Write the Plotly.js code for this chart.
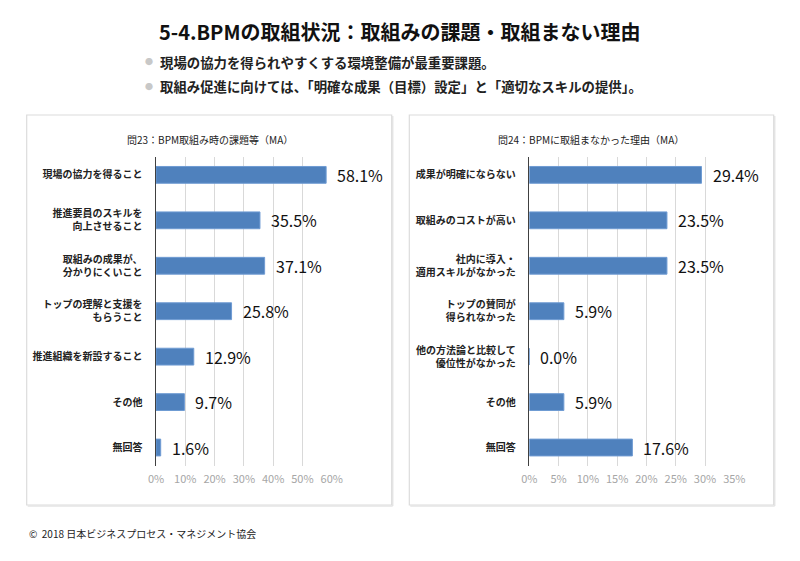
<!DOCTYPE html>
<html>
<head>
<meta charset="utf-8">
<script src="https://cdn.plot.ly/plotly-3.0.1.min.js"></script>
<style>html,body{margin:0;padding:0;background:#fff;}#chart{width:800px;height:561px;}</style>
</head>
<body>
<div id="chart"></div>
<script>
const mainTitle = "5-4.BPMの取組状況：取組みの課題・取組まない理由";
const bullets = ["現場の協力を得られやすくする環境整備が最重要課題。",
  "取組み促進に向けては、「明確な成果（目標）設定」と「適切なスキルの提供」。"];
const footer = "©  2018 日本ビジネスプロセス・マネジメント協会";

const leftTitle = "問23：BPM取組み時の課題等（MA）";
const leftCats = ["現場の協力を得ること", "推進要員のスキルを<br>向上させること", "取組みの成果が、<br>分かりにくいこと",
  "トップの理解と支援を<br>もらうこと", "推進組織を新設すること", "その他", "無回答"];
const leftVals = [58.1, 35.5, 37.1, 25.8, 12.9, 9.7, 1.6];
const leftTicks = [0, 10, 20, 30, 40, 50, 60];

const rightTitle = "問24：BPMに取組まなかった理由（MA）";
const rightCats = ["成果が明確にならない", "取組みのコストが高い", "社内に導入・<br>適用スキルがなかった",
  "トップの賛同が<br>得られなかった", "他の方法論と比較して<br>優位性がなかった", "その他", "無回答"];
const rightVals = [29.4, 23.5, 23.5, 5.9, 0.0, 5.9, 17.6];
const rightTicks = [0, 5, 10, 15, 20, 25, 30, 35];

const JP = '"Noto Sans CJK JP", "Noto Sans", sans-serif';
const W = 800, H = 561;
const px = v => v / W;
const py = v => 1 - v / H;
const barColor = '#4f81bd';

function barTrace(cats, vals, xa, ya) {
  return {
    type: 'bar', orientation: 'h', x: vals, y: cats, xaxis: xa, yaxis: ya,
    width: 0.37, marker: {color: barColor, line: {color: '#6f9bd3', width: 1}},
    hoverinfo: 'skip', showlegend: false
  };
}

function xAxis(ticks, domain, anchor) {
  return {
    domain: domain, anchor: anchor, range: [0, ticks[ticks.length - 1]],
    tickvals: ticks, ticktext: ticks.map(t => t + '%'),
    showgrid: true, gridcolor: '#d9d9d9', gridwidth: 1, zeroline: false,
    showline: false, ticks: '', fixedrange: true, ticklabelstandoff: 5,
    tickfont: {family: JP, size: 11, color: '#a6a6a6'}
  };
}
function yAxis(cats, domain, anchor) {
  return {
    domain: domain, anchor: anchor, type: 'category', categoryorder: 'array', categoryarray: cats,
    range: [6.4, -0.4], showgrid: false, zeroline: false,
    showline: true, linecolor: '#404040', linewidth: 1.5, ticks: '', ticklabelstandoff: 10,
    tickfont: {family: JP, size: 10, color: '#222', weight: 'bold'}, fixedrange: true
  };
}

const yDom = [py(465.7), py(156.7)];
const data = [barTrace(leftCats, leftVals, 'x', 'y'), barTrace(rightCats, rightVals, 'x2', 'y2')];

const annotations = [];
annotations.push({xref: 'paper', yref: 'paper', x: 0.5, y: py(31), xanchor: 'center', yanchor: 'middle',
  text: mainTitle, showarrow: false, font: {family: JP, size: 20, color: '#111', weight: 'bold'}});
const bulletY = [62, 86];
bullets.forEach((b, i) => {
  annotations.push({xref: 'paper', yref: 'paper', x: px(149), y: py(bulletY[i]), xanchor: 'center', yanchor: 'middle',
    text: '●', showarrow: false, font: {family: JP, size: 8, color: '#c8c8c8'}});
  annotations.push({xref: 'paper', yref: 'paper', x: px(158), y: py(bulletY[i]), xanchor: 'left', yanchor: 'middle',
    text: b, showarrow: false, font: {family: JP, size: 13.4, color: '#222', weight: 'bold'}});
});
annotations.push({xref: 'paper', yref: 'paper', x: px(210), y: py(139), xanchor: 'center', yanchor: 'middle',
  text: leftTitle, showarrow: false, font: {family: JP, size: 10, color: '#222'}});
annotations.push({xref: 'paper', yref: 'paper', x: px(591), y: py(139), xanchor: 'center', yanchor: 'middle',
  text: rightTitle, showarrow: false, font: {family: JP, size: 10, color: '#222'}});
annotations.push({xref: 'paper', yref: 'paper', x: px(27), y: py(533), xanchor: 'left', yanchor: 'middle',
  text: footer, showarrow: false, font: {family: JP, size: 10, color: '#222'}});

leftVals.forEach((v, i) => annotations.push({xref: 'x', yref: 'y', x: v, y: leftCats[i], xanchor: 'left', yanchor: 'middle',
  xshift: 9, text: v.toFixed(1) + '%', showarrow: false, font: {family: JP, size: 16, color: '#111'}}));
rightVals.forEach((v, i) => annotations.push({xref: 'x2', yref: 'y2', x: v, y: rightCats[i], xanchor: 'left', yanchor: 'middle',
  xshift: 9, text: v.toFixed(1) + '%', showarrow: false, font: {family: JP, size: 16, color: '#111'}}));

function panel(x0, x1) {
  return [
    {type: 'rect', xref: 'paper', yref: 'paper', x0: px(x0), x1: px(x1), y0: py(505), y1: py(115),
      line: {color: '#dcdcdc', width: 1.2}, fillcolor: 'rgba(0,0,0,0)', layer: 'below'},
    {type: 'line', xref: 'paper', yref: 'paper', x0: px(x0 + 1), x1: px(x1 + 1), y0: py(506), y1: py(506),
      line: {color: '#e4e4e4', width: 1.5}},
    {type: 'line', xref: 'paper', yref: 'paper', x0: px(x1 + 1), x1: px(x1 + 1), y0: py(116), y1: py(506),
      line: {color: '#e4e4e4', width: 1.5}}
  ];
}

const layout = {
  width: W, height: H, margin: {l: 0, r: 0, t: 0, b: 0},
  paper_bgcolor: '#fff', plot_bgcolor: 'rgba(0,0,0,0)',
  font: {family: JP},
  bargap: 0.63,
  xaxis: xAxis(leftTicks, [px(156), px(331.7)], 'y'),
  yaxis: yAxis(leftCats, yDom, 'x'),
  xaxis2: xAxis(rightTicks, [px(529.3), px(734.3)], 'y2'),
  yaxis2: yAxis(rightCats, yDom, 'x2'),
  shapes: panel(26.7, 391.7).concat(panel(409.3, 773.7)),
  annotations: annotations
};

Plotly.newPlot('chart', data, layout, {displayModeBar: false, staticPlot: true});
</script>
</body>
</html>
